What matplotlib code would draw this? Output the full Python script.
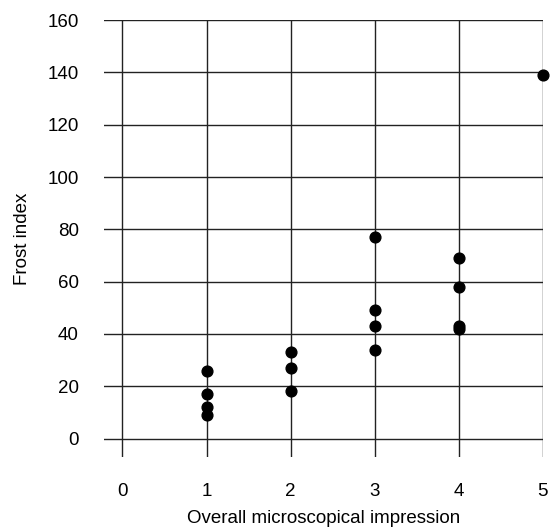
import matplotlib
matplotlib.use("Agg")
import matplotlib.pyplot as plt

plt.rcParams['font.family'] = ['Liberation Sans', 'DejaVu Sans']

# overall microscopical impression vs frost index
impression = [1, 1, 1, 1, 2, 2, 2, 3, 3, 3, 3, 4, 4, 4, 4, 5]
frost_index = [26, 17, 12, 9, 33, 27, 18, 77, 49, 43, 34, 69, 58, 43, 42, 139]

x_ticks = [0, 1, 2, 3, 4, 5]
y_ticks = [0, 20, 40, 60, 80, 100, 120, 140, 160]

fig = plt.figure(figsize=(5.5, 5.3), dpi=100)
ax = fig.add_axes([0.189, 0.138, 0.798, 0.824])

ax.scatter(impression, frost_index, s=60, color='black', zorder=3, clip_on=False)

ax.set_xlim(-0.22, 5.0)
ax.set_ylim(-7, 160)
ax.set_xticks(x_ticks)
ax.set_yticks(y_ticks)
ax.grid(True, color='#222222', linewidth=1.0)
ax.set_axisbelow(True)
for s in ax.spines.values():
    s.set_visible(False)
ax.tick_params(length=0, labelsize=13.5)
ax.tick_params(axis='x', pad=19)
ax.tick_params(axis='y', pad=18)

ax.set_xlabel('Overall microscopical impression', fontsize=13.5, labelpad=7)
ax.set_ylabel('Frost index', fontsize=13.5, labelpad=12)

fig.savefig('out.png', dpi=100)
